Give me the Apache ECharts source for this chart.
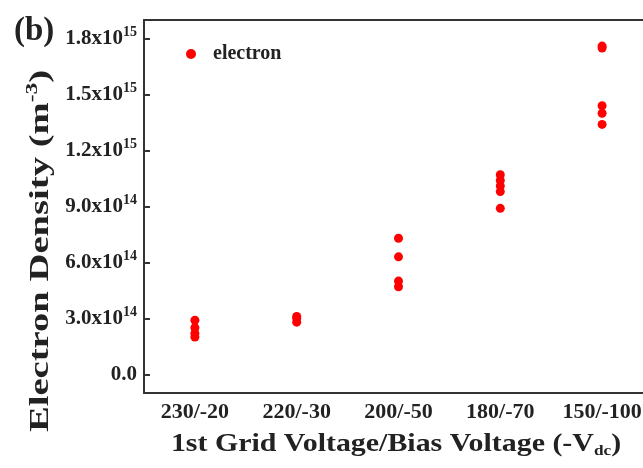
<!DOCTYPE html>
<html>
<head>
<meta charset="utf-8">
<script src="https://cdn.jsdelivr.net/npm/echarts@6/dist/echarts.min.js"></script>
<style>
  html, body { margin: 0; padding: 0; background: #fff; overflow: hidden; }
  /* a bit wider than the window: the plot is cut off on the right, like the original */
  #main { width: 663px; height: 468px; }
</style>
</head>
<body>
<div id="main"></div>
<script>
// categories on the x axis (1st grid voltage / bias voltage)
var categories = ['230/-20', '220/-30', '200/-50', '180/-70', '150/-100'];

// electron density readings, m^-3, one list per category
var n230 = [2.9e14, 2.5e14, 2.2e14, 2.0e14];
var n220 = [3.1e14, 3.0e14, 2.8e14];
var n200 = [7.3e14, 6.3e14, 5.0e14, 4.7e14];
var n180 = [1.07e15, 1.04e15, 1.01e15, 0.98e15, 0.89e15];
var n150 = [1.76e15, 1.75e15, 1.44e15, 1.40e15, 1.34e15];

// y tick positions and their labels
var yTicks = [0, 3e14, 6e14, 9e14, 1.2e15, 1.5e15, 1.8e15];
var yTickLabels = ['0.0', '3.0x10{sup|14}', '6.0x10{sup|14}', '9.0x10{sup|14}',
  '1.2x10{sup|15}', '1.5x10{sup|15}', '1.8x10{sup|15}'];

var groups = [n230, n220, n200, n180, n150];
var points = [];
groups.forEach(function (g, i) {
  g.forEach(function (v) { points.push([categories[i], v]); });
});

var serif = '"Liberation Serif", "Times New Roman", serif';
var axisColor = '#333';
var textColor = '#222';

var myChart = echarts.init(document.getElementById('main'));

myChart.setOption({
  backgroundColor: '#fff',
  animation: false,
  title: {
    text: '(b)',
    left: 9, top: 10,
    textStyle: { fontFamily: serif, fontWeight: 'bold', fontSize: 33, color: textColor }
  },
  legend: {
    data: ['electron'],
    left: 181, top: 39,
    icon: 'circle',
    itemWidth: 10, itemHeight: 10,
    textStyle: { fontFamily: serif, fontWeight: 'bold', fontSize: 20, color: textColor, padding: [0, 0, 0, 12] }
  },
  grid: { left: 144, top: 20, right: 10, bottom: 75, containLabel: false },
  xAxis: [{
    type: 'category',
    data: categories,
    boundaryGap: true,
    axisLine: { onZero: false, lineStyle: { color: axisColor, width: 2 } },
    axisTick: { inside: true, alignWithLabel: true, interval: 0, length: 6, lineStyle: { color: axisColor, width: 2 } },
    axisLabel: { interval: 0, fontFamily: serif, fontWeight: 'bold', fontSize: 22, color: textColor, margin: 8 },
    splitLine: { show: false }
  }, {
    type: 'category',
    data: categories,
    position: 'top',
    axisLine: { onZero: false, lineStyle: { color: axisColor, width: 2 } },
    axisTick: { show: false },
    axisLabel: { show: false }
  }],
  yAxis: {
    type: 'value',
    min: -1e14,
    max: 1.9e15,
    axisLine: { show: true, lineStyle: { color: axisColor, width: 2 } },
    axisTick: { show: true, inside: true, length: 6, customValues: yTicks, lineStyle: { color: axisColor, width: 2 } },
    splitLine: { show: false },
    axisLabel: {
      customValues: yTicks,
      margin: 7,
      fontFamily: serif, fontWeight: 'bold', fontSize: 21, color: textColor,
      formatter: function (v) {
        var i = yTicks.indexOf(v);
        return i >= 0 ? yTickLabels[i] : '';
      },
      rich: {
        sup: { fontFamily: serif, fontWeight: 'bold', fontSize: 14, color: textColor, padding: [0, 0, 12, 0] }
      }
    }
  },
  graphic: [{
    // y axis title, rotated
    type: 'text',
    x: 41, y: 251,
    rotation: Math.PI / 2,
    scaleX: 1.38,
    style: {
      text: 'Electron Density (m{sup|-3})',
      fontFamily: serif, fontWeight: 'bold', fontSize: 28, fill: textColor,
      align: 'center', verticalAlign: 'middle',
      rich: { sup: { fontFamily: serif, fontWeight: 'bold', fontSize: 17, fill: textColor, padding: [0, 0, 16, 0] } }
    }
  }, {
    // x axis title
    type: 'text',
    x: 396, y: 444,
    scaleX: 1.15,
    style: {
      text: '1st Grid Voltage/Bias Voltage (-V{sub|dc})',
      fontFamily: serif, fontWeight: 'bold', fontSize: 26, fill: textColor,
      align: 'center', verticalAlign: 'middle',
      rich: { sub: { fontFamily: serif, fontWeight: 'bold', fontSize: 15, fill: textColor, padding: [14, 0, 0, 0] } }
    }
  }],
  series: [{
    name: 'electron',
    type: 'scatter',
    data: points,
    symbol: 'circle',
    symbolSize: 9,
    itemStyle: { color: '#ff0000', opacity: 1 }
  }]
});
</script>
</body>
</html>
